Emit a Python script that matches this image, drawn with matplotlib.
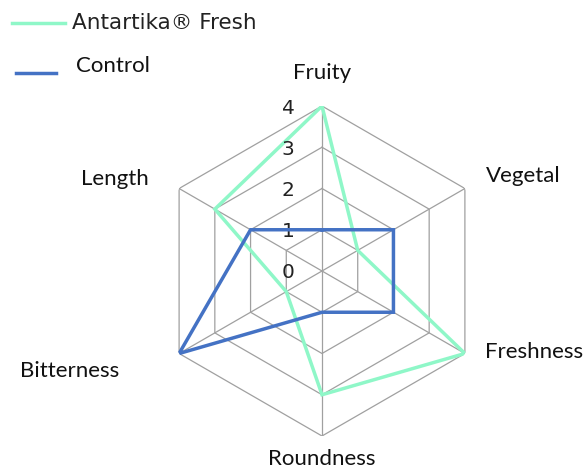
import numpy as np
import matplotlib
matplotlib.use('Agg')
from matplotlib import pyplot as plt
from matplotlib.lines import Line2D

categories = ['Fruity', 'Vegetal', 'Freshness', 'Roundness', 'Bitterness', 'Length']
antartika = [4, 1, 4, 3, 1, 3]
control = [1, 2, 2, 1, 4, 2]
ticks = [0, 1, 2, 3, 4]
series_names = ['Antartika\u00ae Fresh', 'Control']

GREEN = '#8ff7c8'
BLUE = '#4472c4'
GRID = '#a0a0a0'

W, H = 584, 470
fig = plt.figure(figsize=(W / 100, H / 100), dpi=100)
# axis centre (322, 271) px, radius 165 px
ax = fig.add_axes([(322 - 165) / W, (H - 271 - 165) / H, 330 / W, 330 / H],
                  projection='polar')
ax.set_theta_offset(np.pi / 2)
ax.set_theta_direction(-1)
ax.set_ylim(0, max(ticks))
ax.grid(False)
ax.set_xticks([])
ax.set_yticks([])
ax.spines['polar'].set_visible(False)
ax.patch.set_visible(False)

n = len(categories)
theta = np.linspace(0, 2 * np.pi, n, endpoint=False)
closed = np.append(theta, theta[0])

# hexagonal grid
for t in ticks[1:]:
    ax.plot(closed, [t] * (n + 1), color=GRID, lw=0.9, zorder=1)
for a in theta:
    ax.plot([a, a], [0, ticks[-1]], color=GRID, lw=0.9, zorder=1)

ax.plot(closed, antartika + antartika[:1], color=GREEN, lw=2.5, zorder=3,
        solid_joinstyle='miter')
ax.plot(closed, control + control[:1], color=BLUE, lw=2.5, zorder=4,
        solid_joinstyle='miter')

# value labels along the top axis
for t in ticks:
    ax.annotate(str(t), (0, t), xytext=(-34, -2), textcoords='offset pixels',
                ha='center', va='center', fontsize=14.5, family='DejaVu Sans',
                color='#222222')

# category labels, offset from the end of each spoke
offsets = [(0, 33), (58, 13), (69, 1), (0, -23), (-109, -17), (-64, 10)]
for a, name, off in zip(theta, categories, offsets):
    ax.annotate(name, (a, ticks[-1]), xytext=off, textcoords='offset pixels',
                ha='center', va='center', fontsize=16, family='Lato',
                color='#111111')

# legend drawn by hand
def px(x, y):
    return x / W, 1 - y / H

fig.add_artist(Line2D([px(12, 23)[0], px(65, 23)[0]], [px(12, 23)[1]] * 2,
                      color=GREEN, lw=2.5))
fig.text(*px(72, 23), series_names[0], ha='left', va='center', fontsize=15.5,
         family='DejaVu Sans', color='#222222')
fig.add_artist(Line2D([px(16, 73)[0], px(56, 73)[0]], [px(16, 73)[1]] * 2,
                      color=BLUE, lw=2.5))
fig.text(*px(76, 66), series_names[1], ha='left', va='center', fontsize=16,
         family='Lato', color='#111111')

fig.savefig('out.png', dpi=100)
